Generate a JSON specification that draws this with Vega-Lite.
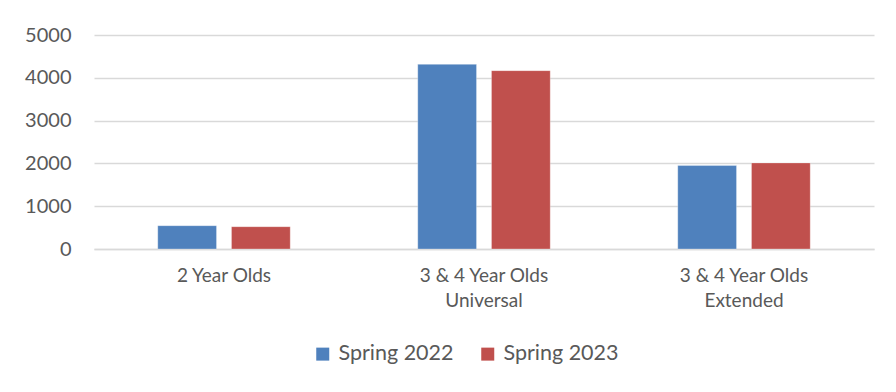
{
  "$schema": "https://vega.github.io/schema/vega-lite/v6.json",
  "width": 780,
  "height": 214,
  "autosize": {"type": "none"},
  "padding": {"left": 94, "top": 35, "right": 22, "bottom": 143},
  "background": "white",
  "data": {
    "values": [
      {"category": "2 Year Olds", "series": "Spring 2022", "value": 545},
      {"category": "2 Year Olds", "series": "Spring 2023", "value": 522},
      {"category": "3 & 4 Year Olds|Universal", "series": "Spring 2022", "value": 4314},
      {"category": "3 & 4 Year Olds|Universal", "series": "Spring 2023", "value": 4167},
      {"category": "3 & 4 Year Olds|Extended", "series": "Spring 2022", "value": 1950},
      {"category": "3 & 4 Year Olds|Extended", "series": "Spring 2023", "value": 2012}
    ]
  },
  "mark": {"type": "bar", "stroke": "white", "strokeWidth": 0.5, "strokeOpacity": 0.6},
  "encoding": {
    "x": {
      "field": "category",
      "type": "nominal",
      "sort": null,
      "scale": {"paddingInner": 0, "paddingOuter": 0},
      "axis": {
        "title": null,
        "labelAngle": 0,
        "labelExpr": "split(datum.value, '|')",
        "labelFont": "Lato",
        "labelFontSize": 19,
        "labelColor": "#595959",
        "labelPadding": 17,
        "labelLineHeight": 25,
        "labelBaseline": "top",
        "ticks": false,
        "domainColor": "#D9D9D9",
        "domainWidth": 1.5,
        "grid": false
      }
    },
    "xOffset": {
      "field": "series",
      "type": "nominal",
      "scale": {"paddingInner": 0.203, "paddingOuter": 0.865}
    },
    "y": {
      "field": "value",
      "type": "quantitative",
      "scale": {"domain": [0, 5000], "nice": false},
      "axis": {
        "title": null,
        "values": [0, 1000, 2000, 3000, 4000, 5000],
        "format": "d",
        "labelFont": "Lato",
        "labelFontSize": 20,
        "labelColor": "#595959",
        "labelPadding": 23,
        "ticks": false,
        "domain": false,
        "gridColor": "#D9D9D9",
        "gridWidth": 1.5
      }
    },
    "color": {
      "field": "series",
      "type": "nominal",
      "scale": {"domain": ["Spring 2022", "Spring 2023"], "range": ["#4F81BD", "#C0504D"]},
      "legend": {
        "title": null,
        "orient": "none",
        "legendX": 218,
        "legendY": 308,
        "direction": "horizontal",
        "symbolType": "square",
        "symbolSize": 169,
        "symbolStrokeWidth": 0,
        "labelFont": "Lato",
        "labelFontSize": 21.5,
        "labelColor": "#595959",
        "labelOffset": 5,
        "columnPadding": 23
      }
    }
  },
  "config": {
    "view": {"stroke": null}
  }
}
